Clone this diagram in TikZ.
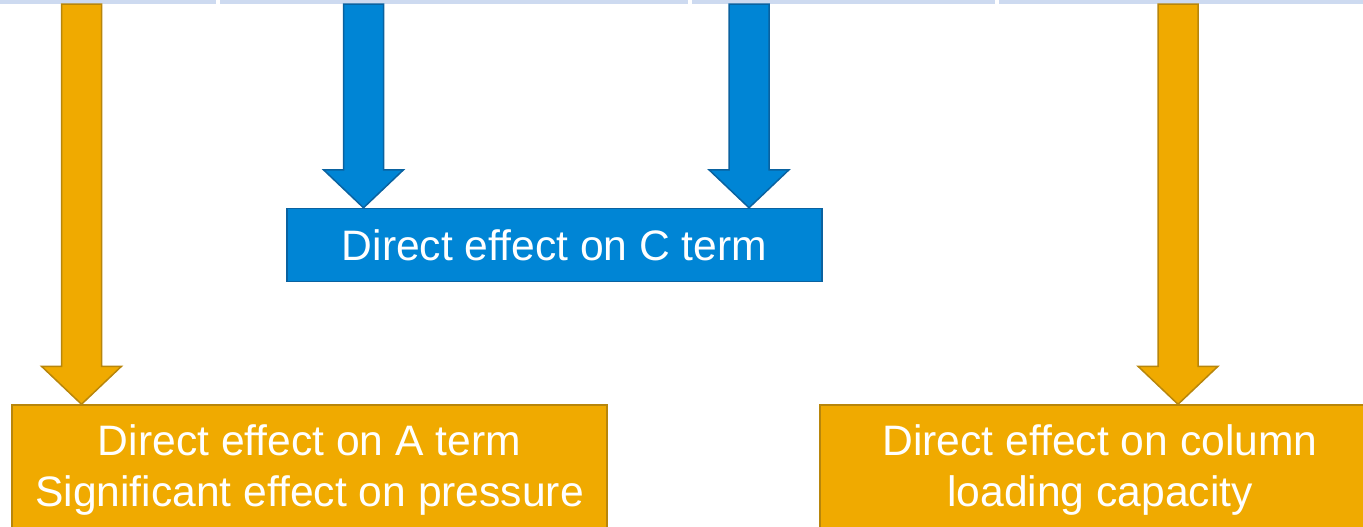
\documentclass[tikz,border=0pt]{standalone}
\usepackage{fontspec}
\setmainfont{Liberation Sans}
\usetikzlibrary{calc}

\definecolor{orangefill}{HTML}{F0AA00}
\definecolor{orangeline}{HTML}{B8860B}
\definecolor{bluefill}{HTML}{0085D5}
\definecolor{blueline}{HTML}{0A62A0}
\definecolor{stripblue}{HTML}{CDDAF0}

% block arrow from a start point straight down to a tip
\newcommand{\blockarrow}[3]{%
  \draw[#3] let \p1=(#1), \p2=(#2) in
    (\x1-10pt,\y1) -- (\x1+10pt,\y1) -- (\x1+10pt,\y2+19pt) -- (\x1+20pt,\y2+19pt)
    -- (\x2,\y2) -- (\x1-20pt,\y2+19pt) -- (\x1-10pt,\y2+19pt) -- cycle;}

\begin{document}
\begin{tikzpicture}[x=0.5pt, y=-0.5pt,
    box/.style={draw, line width=0.75pt, text=white, align=center,
      font=\fontsize{21.3}{25.7}\selectfont, inner sep=0pt},
    orangebox/.style={box, fill=orangefill, draw=orangeline},
    bluebox/.style={box, fill=bluefill, draw=blueline},
    orangearrow/.style={fill=orangefill, draw=orangeline, line width=0.75pt},
    bluearrow/.style={fill=bluefill, draw=blueline, line width=0.75pt}]
  \useasboundingbox (0,0) rectangle (1363,526);
  \clip (0,0) rectangle (1363,526);

  % strip along the top
  \fill[stripblue] (0,0) rectangle (216,4);
  \fill[stripblue] (220,0) rectangle (688,4);
  \fill[stripblue] (692,0) rectangle (995,4);
  \fill[stripblue] (999,0) rectangle (1363,4);

  % boxes
  \node[bluebox, minimum width=267.5pt, minimum height=36.5pt] (C) at (554.5,245)
    {Direct effect on C term};
  \node[orangebox, minimum width=297.5pt, minimum height=65pt] (A) at (309.5,470)
    {Direct effect on A term\\Significant effect on pressure};
  \node[orangebox, minimum width=280pt, minimum height=65pt] (L) at (1100,470)
    {Direct effect on column\\loading capacity};

  % arrow starts and tips
  \coordinate (s1) at (81.5,4);
  \coordinate (s2) at (363.5,4);
  \coordinate (s3) at (749,4);
  \coordinate (s4) at (1178,4);
  \coordinate (t1) at (s1 |- A.north);
  \coordinate (t2) at (s2 |- C.north);
  \coordinate (t3) at (s3 |- C.north);
  \coordinate (t4) at (s4 |- L.north);

  \blockarrow{s1}{t1}{orangearrow}
  \blockarrow{s2}{t2}{bluearrow}
  \blockarrow{s3}{t3}{bluearrow}
  \blockarrow{s4}{t4}{orangearrow}
\end{tikzpicture}
\end{document}
